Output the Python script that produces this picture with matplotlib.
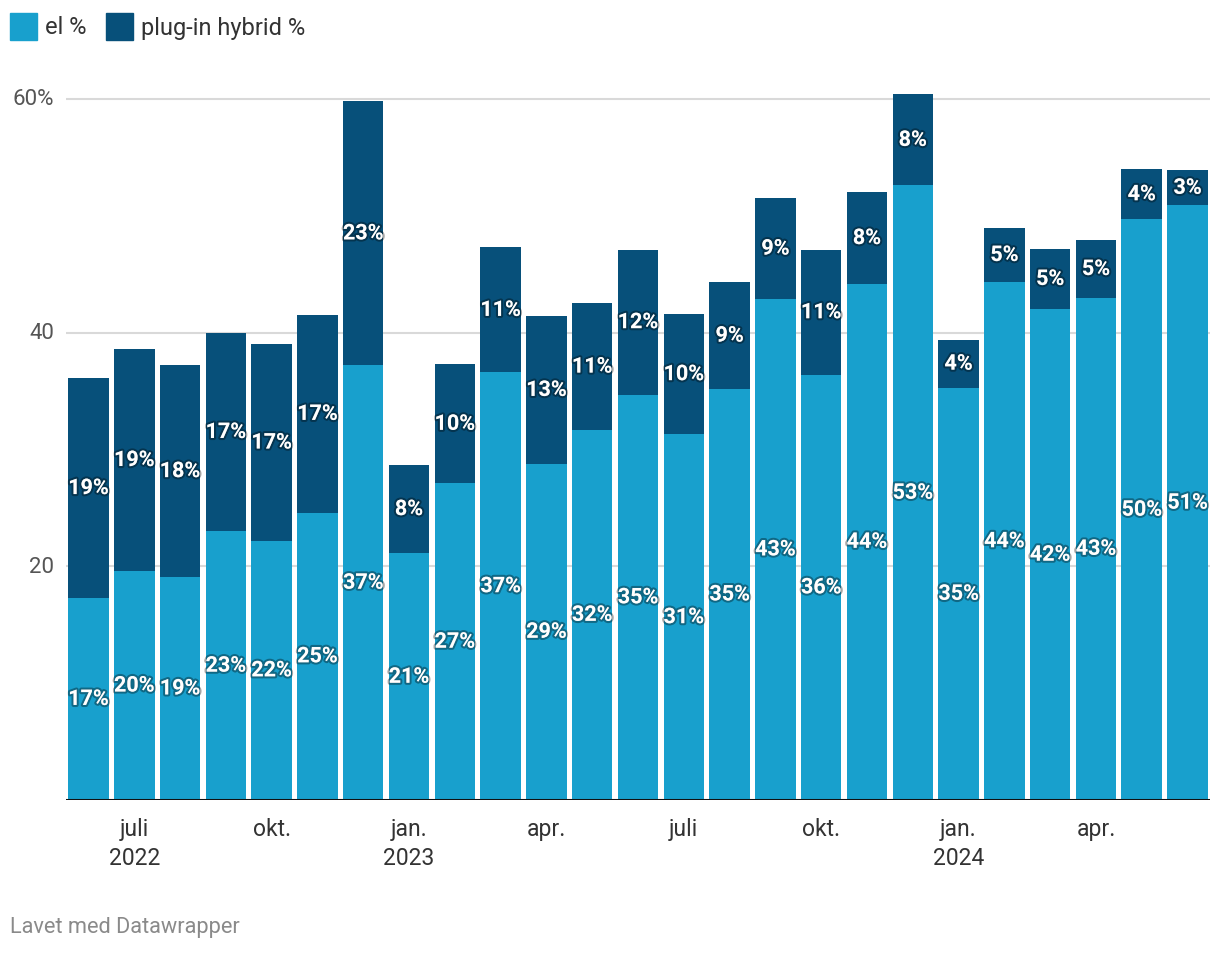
import matplotlib
matplotlib.use("Agg")
import matplotlib.pyplot as plt
import matplotlib.patheffects as pe
import numpy as np

plt.rcParams['font.family'] = ['Roboto', 'DejaVu Sans']

months = ["2022-06", "2022-07", "2022-08", "2022-09", "2022-10", "2022-11", "2022-12",
          "2023-01", "2023-02", "2023-03", "2023-04", "2023-05", "2023-06", "2023-07",
          "2023-08", "2023-09", "2023-10", "2023-11", "2023-12", "2024-01", "2024-02",
          "2024-03", "2024-04", "2024-05", "2024-06"]
el = [17.3, 19.6, 19.1, 23.0, 22.2, 24.6, 37.2, 21.1, 27.1, 36.6, 28.8, 31.7, 34.7,
      31.3, 35.2, 42.9, 36.4, 44.2, 52.6, 35.3, 44.3, 42.0, 43.0, 49.7, 50.9]
phev = [18.8, 19.0, 18.1, 17.0, 16.8, 16.9, 22.6, 7.6, 10.2, 10.7, 12.6, 10.8, 12.4,
        10.3, 9.1, 8.6, 10.7, 7.8, 7.8, 4.1, 4.7, 5.2, 4.9, 4.3, 3.0]
el_labels = ["17%", "20%", "19%", "23%", "22%", "25%", "37%", "21%", "27%", "37%", "29%",
             "32%", "35%", "31%", "35%", "43%", "36%", "44%", "53%", "35%", "44%", "42%",
             "43%", "50%", "51%"]
phev_labels = ["19%", "19%", "18%", "17%", "17%", "17%", "23%", "8%", "10%", "11%", "13%",
               "11%", "12%", "10%", "9%", "9%", "11%", "8%", "8%", "4%", "5%", "5%",
               "5%", "4%", "3%"]
tick_idx = [1, 4, 7, 10, 13, 16, 19, 22]
tick_labels = ["juli\n2022", "okt.", "jan.\n2023", "apr.", "juli", "okt.", "jan.\n2024", "apr."]
y_ticks = [20, 40, 60]
y_tick_labels = ["20", "40", "60%"]
series_names = ["el %", "plug-in hybrid %"]

C_EL = "#18a0cd"
C_PH = "#07507a"

W, H = 1220, 954
fig = plt.figure(figsize=(W / 100, H / 100), dpi=100)
x0, x1 = 66, 1210
y0 = 801
ymax = 61
ppu = (799 - 98) / 60.0
ytop = y0 - ymax * ppu
ax = fig.add_axes([x0 / W, 1 - y0 / H, (x1 - x0) / W, (y0 - ytop) / H])

x = np.arange(len(months))
bw = 0.885
ax.bar(x, el, width=bw, color=C_EL, zorder=2)
ax.bar(x, phev, bottom=el, width=bw, color=C_PH, zorder=2)

ax.set_xlim(-0.49, len(months) - 0.51)
ax.set_ylim(0, ymax)

for y in y_ticks:
    ax.axhline(y, color="#d9d9d9", lw=1.5, zorder=1)
ax.axhline(0, color="#111111", lw=2.2, zorder=3)

for s in ax.spines.values():
    s.set_visible(False)
ax.set_yticks([])
ax.set_xticks(tick_idx)
ax.set_xticklabels(tick_labels, fontsize=16.5, color="#333333", linespacing=1.35)
ax.tick_params(axis='x', length=0, pad=12)

for y, lab in zip(y_ticks, y_tick_labels):
    ax.text(-0.49 - 12 / 45.8, y, lab, ha="right", va="center", fontsize=16, color="#555555")

effects = [pe.withStroke(linewidth=3, foreground=(0, 0, 0, 0.35))]
for i in range(len(months)):
    ax.text(x[i], el[i] / 2, el_labels[i], ha="center", va="center", fontsize=15.5,
            fontweight="bold", color="white", path_effects=effects, zorder=4)
    ax.text(x[i], el[i] + phev[i] / 2, phev_labels[i], ha="center", va="center", fontsize=15.5,
            fontweight="bold", color="white", path_effects=effects, zorder=4)

# legend
fig.patches.append(plt.Rectangle((10 / W, 1 - 41 / H), 27 / W, 27 / H, transform=fig.transFigure,
                                 color=C_EL))
fig.text(45 / W, 1 - 28 / H, series_names[0], ha="left", va="center", fontsize=17, color="#333333")
fig.patches.append(plt.Rectangle((106 / W, 1 - 41 / H), 27 / W, 27 / H, transform=fig.transFigure,
                                 color=C_PH))
fig.text(141 / W, 1 - 28 / H, series_names[1], ha="left", va="center", fontsize=17, color="#333333")

fig.text(10 / W, 1 - 928 / H, "Lavet med Datawrapper", ha="left", va="center", fontsize=15.7,
         color="#8a8a8a")

fig.savefig("out.png", dpi=100)
